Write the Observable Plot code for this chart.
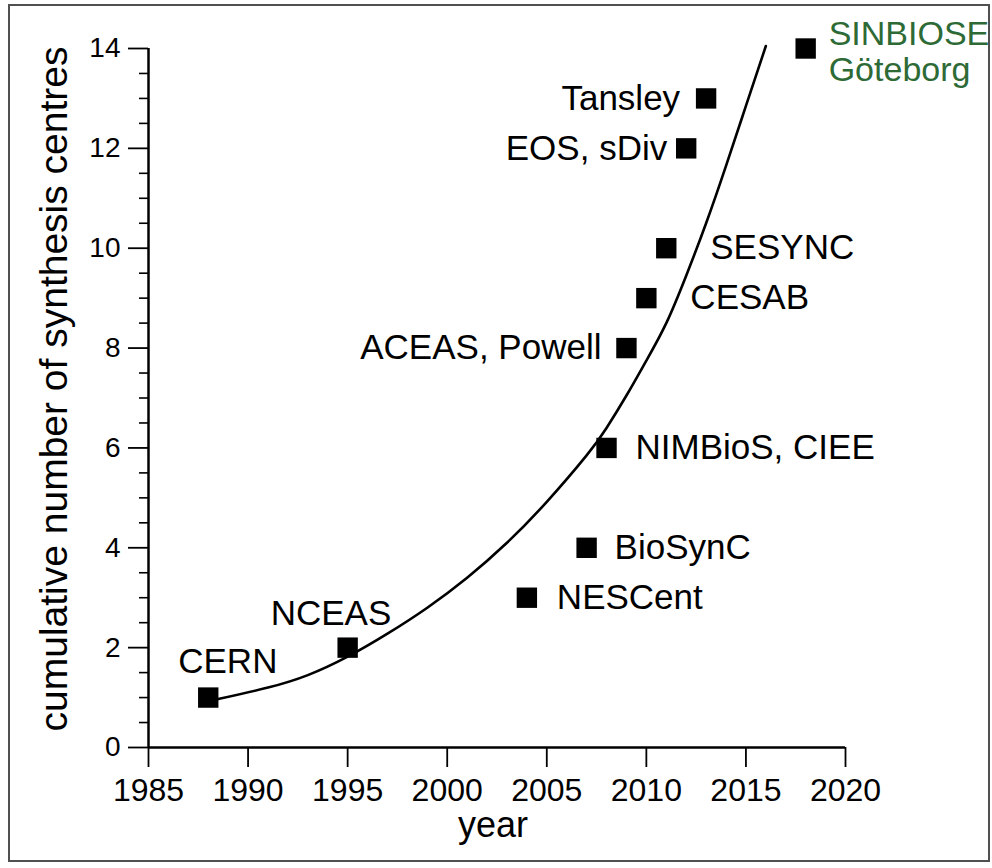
<!DOCTYPE html>
<html>
<head>
<meta charset="utf-8">
<script src="https://cdn.jsdelivr.net/npm/d3@7"></script>
<script src="https://cdn.jsdelivr.net/npm/@observablehq/plot@0.6"></script>
<style>
  html, body { margin: 0; padding: 0; background: #fff; }
  #wrap { position: relative; width: 992px; height: 868px; background: #fff; overflow: hidden; }
  #frame { position: absolute; left: 8px; top: 4px; width: 982px; height: 858px; border: 2px solid #505050; box-sizing: border-box; }
  #chart { position: absolute; left: 0; top: 0; }
</style>
</head>
<body>
<div id="wrap"><div id="frame"></div><div id="chart"></div></div>
<script>
// ---- data ----
const years  = [1988, 1995, 2004, 2007, 2008, 2009, 2010, 2011, 2012, 2013, 2018];
const counts = [1, 2, 3, 4, 6, 8, 9, 10, 12, 13, 14];
const names  = ["CERN", "NCEAS", "NESCent", "BioSynC", "NIMBioS, CIEE", "ACEAS, Powell",
                "CESAB", "SESYNC", "EOS, sDiv", "Tansley", "SINBIOSE\nGöteborg"];

// fitted curve
const fitYears  = [1988.5, 1991, 1993, 1995, 1997, 1999, 2001, 2003, 2005, 2007, 2008, 2009, 2010, 2011, 2012, 2013, 2014, 2015, 2016];
const fitValues = [0.97, 1.2, 1.45, 1.82, 2.28, 2.8, 3.4, 4.1, 4.92, 5.85, 6.4, 7.05, 7.75, 8.5, 9.45, 10.5, 11.65, 12.85, 14.05];

const xTicks = [1985, 1990, 1995, 2000, 2005, 2010, 2015, 2020];
const yTicks = [0, 2, 4, 6, 8, 10, 12, 14];
const yMinor = [0.5, 1, 1.5, 2.5, 3, 3.5, 4.5, 5, 5.5, 6.5, 7, 7.5, 8.5, 9, 9.5, 10.5, 11, 11.5, 12.5, 13, 13.5];

const xLabel = "year";
const yLabel = "cumulative number of synthesis centres";

// ---- label layout (style only) ----
const labelPlacement = {
  "CERN":               {anchor: "start", dx: -30, dy: -36},
  "NCEAS":              {anchor: "start", dx: -77, dy: -34},
  "NESCent":            {anchor: "start", dx: 30,  dy: 0},
  "BioSynC":            {anchor: "start", dx: 28,  dy: 0},
  "NIMBioS, CIEE":      {anchor: "start", dx: 29,  dy: 0},
  "ACEAS, Powell":      {anchor: "end",   dx: -25, dy: 0},
  "CESAB":              {anchor: "start", dx: 44,  dy: 0},
  "SESYNC":             {anchor: "start", dx: 44,  dy: 0},
  "EOS, sDiv":          {anchor: "end",   dx: -19, dy: 0},
  "Tansley":            {anchor: "end",   dx: -26, dy: 0},
  "SINBIOSE\nGöteborg": {anchor: "start", dx: 23,  dy: 3, fill: "#2d6a36", size: 34, lh: 1.05}
};

const points = years.map((y, i) => ({year: y, count: counts[i], name: names[i]}));
const fit = fitYears.map((y, i) => ({year: y, value: fitValues[i]}));

const labelMarks = points.map(p => {
  const L = labelPlacement[p.name];
  return Plot.text([p], {
    x: "year", y: "count", text: "name",
    textAnchor: L.anchor, dx: L.dx, dy: L.dy,
    fontSize: L.size || 35, lineHeight: L.lh || 1,
    fill: L.fill || "#000"
  });
});

const chart = Plot.plot({
  width: 992,
  height: 868,
  marginLeft: 148,
  marginRight: 147,
  marginTop: 48,
  marginBottom: 121,
  style: {fontFamily: "'Liberation Sans', Arial, sans-serif", background: "transparent", overflow: "visible", color: "#000"},
  x: {domain: [xTicks[0], xTicks[xTicks.length - 1]]},
  y: {domain: [yTicks[0], yTicks[yTicks.length - 1]]},
  marks: [
    Plot.axisY(yMinor, {tickSize: 9, tickFormat: () => "", label: null, strokeWidth: 1.6}),
    Plot.axisY(yTicks, {tickSize: 20, tickPadding: 8, fontSize: 28, label: null, strokeWidth: 1.8, tickFormat: d => String(d)}),
    Plot.axisX(xTicks, {tickSize: 20, tickPadding: 11, fontSize: 32, label: null, strokeWidth: 1.8, tickFormat: d => String(d)}),
    Plot.ruleX([xTicks[0]], {y1: () => yTicks[0], y2: () => yTicks[yTicks.length - 1], strokeWidth: 2.5}),
    Plot.ruleY([yTicks[0]], {x1: () => xTicks[0], x2: () => xTicks[xTicks.length - 1], strokeWidth: 2.5}),
    Plot.line(fit, {x: "year", y: "value", curve: "natural", strokeWidth: 2.6, stroke: "#000"}),
    Plot.dot(points, {x: "year", y: "count", symbol: "square", r: 11.5, fill: "#000"}),
    ...labelMarks,
    Plot.text([yLabel], {frameAnchor: "left", textAnchor: "middle", rotate: -90, dx: -94, dy: -9, fontSize: 39, fill: "#000"}),
    Plot.text([xLabel], {frameAnchor: "bottom", textAnchor: "middle", dx: -4, dy: 89, fontSize: 36, fill: "#000"})
  ]
});
document.getElementById("chart").appendChild(chart);
</script>
</body>
</html>
